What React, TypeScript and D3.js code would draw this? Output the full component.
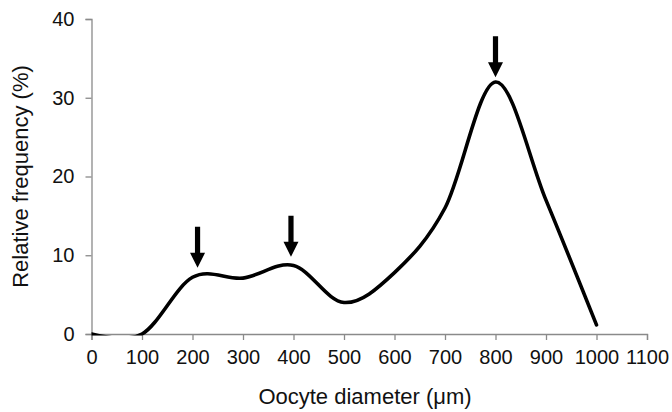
import React, { useEffect, useRef } from 'react';
import * as d3 from 'd3';

// oocyte diameter classes (µm) and relative frequency (%)
const diameters = [0, 100, 200, 300, 400, 500, 600, 700, 800, 900, 1000];
const frequencies = [0, 0, 7.2, 7.1, 8.7, 4.0, 7.8, 16.0, 32.0, 17.0, 1.15];

const xTicks = [0, 100, 200, 300, 400, 500, 600, 700, 800, 900, 1000, 1100];
const yTicks = [0, 10, 20, 30, 40];

// arrows marking the modes: x position and tip value
const arrowX = [210, 395, 800];
const arrowTip = [8.4, 9.8, 32.6];

export default function App() {
  const ref = useRef<SVGSVGElement>(null);

  useEffect(() => {
    const svg = d3.select(ref.current);
    svg.selectAll('*').remove();

    const width = 672;
    const height = 412;
    const margin = { top: 19, right: 25, bottom: 78, left: 91.5 };

    const x = d3
      .scaleLinear()
      .domain([0, 1100])
      .range([margin.left, width - margin.right]);

    const y = d3
      .scaleLinear()
      .domain([0, 40])
      .range([height - margin.bottom, margin.top]);

    const font = 'Arimo, "Liberation Sans", Arial, sans-serif';
    const axisColor = '#8a8a8a';
    const textColor = '#111';

    // clip the smoothed line to the plot area
    svg
      .append('clipPath')
      .attr('id', 'plot-clip')
      .append('rect')
      .attr('x', x(0))
      .attr('y', y(40) - 5)
      .attr('width', x(1100) - x(0) + 5)
      .attr('height', y(0) - y(40) + 6.5);

    // Y axis
    const yAxis = svg
      .append('g')
      .attr('transform', `translate(${x(0)},0)`)
      .call(d3.axisLeft(y).tickValues(yTicks).tickSize(6).tickPadding(11));
    yAxis.select('.domain').attr('stroke', axisColor).attr('stroke-width', 1.3);
    yAxis.selectAll('.tick line').attr('stroke', axisColor).attr('stroke-width', 1.3);
    yAxis
      .selectAll('.tick text')
      .attr('fill', textColor)
      .style('font-family', font)
      .style('font-size', '20px');

    // X axis
    const xAxis = svg
      .append('g')
      .attr('transform', `translate(0,${y(0)})`)
      .call(
        d3
          .axisBottom(x)
          .tickValues(xTicks)
          .tickFormat(d3.format('d'))
          .tickSize(6)
          .tickPadding(10)
      );
    xAxis.select('.domain').attr('stroke', axisColor).attr('stroke-width', 1.3);
    xAxis.selectAll('.tick line').attr('stroke', axisColor).attr('stroke-width', 1.3);
    xAxis
      .selectAll('.tick text')
      .attr('fill', textColor)
      .style('font-family', font)
      .style('font-size', '20px');

    // smoothed frequency curve
    const points = diameters.map((d, i) => [d, frequencies[i]] as [number, number]);
    const line = d3
      .line<[number, number]>()
      .x((d) => x(d[0]))
      .y((d) => y(d[1]))
      .curve(d3.curveCatmullRom.alpha(0));

    svg
      .append('path')
      .datum(points)
      .attr('clip-path', 'url(#plot-clip)')
      .attr('fill', 'none')
      .attr('stroke', '#000')
      .attr('stroke-width', 3.6)
      .attr('stroke-linecap', 'round')
      .attr('d', line);

    // arrows
    arrowX.forEach((ax, i) => {
      const cx = x(ax);
      const tip = y(arrowTip[i]);
      const headH = 15;
      const headW = 7.5;
      const shaftW = 2.6;
      const top = tip - 41;
      const path = [
        [cx - shaftW, top],
        [cx + shaftW, top],
        [cx + shaftW, tip - headH],
        [cx + headW, tip - headH],
        [cx, tip],
        [cx - headW, tip - headH],
        [cx - shaftW, tip - headH],
      ];
      svg
        .append('path')
        .attr('d', 'M' + path.map((p) => p.join(',')).join('L') + 'Z')
        .attr('fill', '#000');
    });

    // axis titles
    svg
      .append('text')
      .attr('x', 365)
      .attr('y', 404)
      .attr('text-anchor', 'middle')
      .attr('fill', textColor)
      .style('font-family', font)
      .style('font-size', '22px')
      .text('Oocyte diameter (μm)');

    svg
      .append('text')
      .attr('transform', `translate(28,${(y(0) + y(40)) / 2}) rotate(-90)`)
      .attr('text-anchor', 'middle')
      .attr('fill', textColor)
      .style('font-family', font)
      .style('font-size', '22px')
      .text('Relative frequency (%)');
  }, []);

  return (
    <svg
      ref={ref}
      width={672}
      height={412}
      style={{ position: 'absolute', top: 0, left: 0, background: '#fff' }}
    />
  );
}
